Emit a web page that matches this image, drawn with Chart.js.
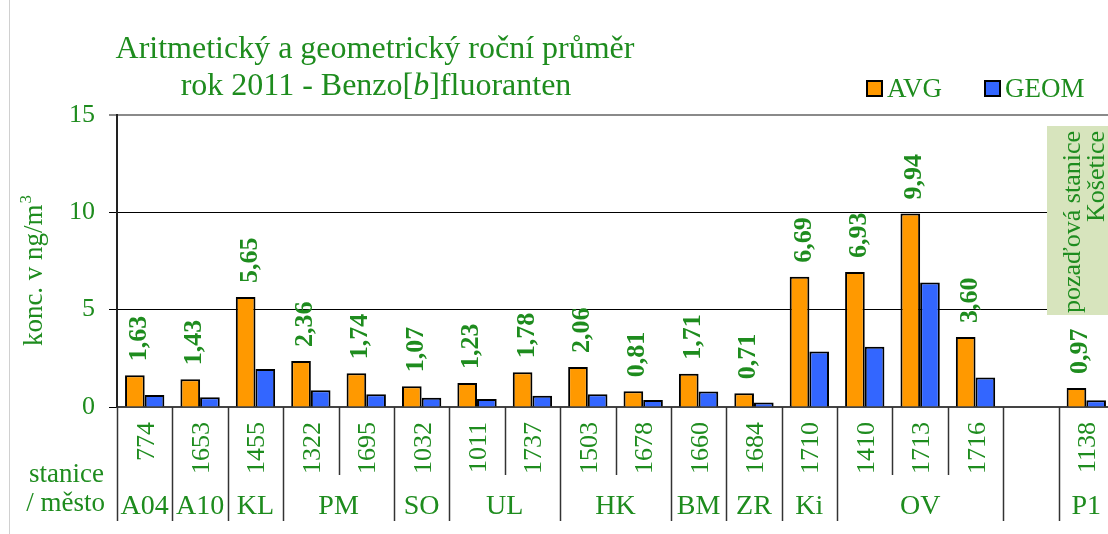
<!DOCTYPE html>
<html>
<head>
<meta charset="utf-8">
<script src="https://cdn.jsdelivr.net/npm/chart.js@4.4.1/dist/chart.umd.min.js"></script>
<style>
    html, body { margin: 0; padding: 0; background: #fff; overflow: hidden; }
    #wrap { width: 1120px; height: 534px; }
</style>
</head>
<body>
<div id="wrap"><canvas id="pahChart" width="1120" height="534"></canvas></div>
<script>
// station codes (one per slot, '' = empty slot)
const stations = ['774', '1653', '1455', '1322', '1695', '1032', '1011', '1737', '1503',
    '1678', '1660', '1684', '1710', '1410', '1713', '1716', '', '1138'];
// city groups: [label, first slot, last slot]
const cities = [['A04', 0, 0], ['A10', 1, 1], ['KL', 2, 2], ['PM', 3, 4], ['SO', 5, 5],
    ['UL', 6, 7], ['HK', 8, 9], ['BM', 10, 10], ['ZR', 11, 11], ['Ki', 12, 12],
    ['OV', 13, 15], ['', 16, 16], ['P1', 17, 17]];
const avgValues = [1.63, 1.43, 5.65, 2.36, 1.74, 1.07, 1.23, 1.78, 2.06,
    0.81, 1.71, 0.71, 6.69, 6.93, 9.94, 3.60, null, 0.97];
const geomValues = [0.62, 0.50, 1.95, 0.86, 0.65, 0.48, 0.41, 0.58, 0.65,
    0.36, 0.79, 0.23, 2.85, 3.09, 6.40, 1.51, null, 0.35];
const yTicks = [0, 5, 10, 15];

const GREEN = '#1e8c1e';
const SERIF = '"Liberation Serif", "DejaVu Serif", serif';

function rotText(ctx, text, x, y, align) {
    ctx.save();
    ctx.translate(x, y);
    ctx.rotate(-Math.PI / 2);
    ctx.textAlign = align;
    ctx.fillText(text, 0, 0);
    ctx.restore();
}

const decorPlugin = {
    id: 'decor',
    afterDraw(chart) {
        const ctx = chart.ctx;
        const xs = chart.scales.x;
        const ys = chart.scales.y;
        const area = chart.chartArea;
        const slotW = (area.right - area.left) / stations.length;
        const base = ys.getPixelForValue(0);

        ctx.save();
        // left frame line
        ctx.strokeStyle = '#d0d0d0';
        ctx.lineWidth = 1;
        ctx.beginPath(); ctx.moveTo(9.5, 0); ctx.lineTo(9.5, 534); ctx.stroke();

        // separators under the axis
        ctx.strokeStyle = '#333';
        ctx.lineWidth = 1.5;
        const longAt = new Set(cities.map(c => c[1]));
        for (let i = 0; i < stations.length; i++) {
            const x = Math.round(area.left + i * slotW) + 0.5;
            const bottom = longAt.has(i) ? 521 : 475;
            ctx.beginPath(); ctx.moveTo(x, base); ctx.lineTo(x, bottom); ctx.stroke();
        }

        // station codes
        ctx.fillStyle = GREEN;
        ctx.font = '26px ' + SERIF;
        ctx.textBaseline = 'alphabetic';
        stations.forEach((s, i) => {
            if (!s) return;
            rotText(ctx, s, xs.getPixelForValue(i) + 9, 422, 'right');
        });

        // city labels
        ctx.font = '28px ' + SERIF;
        ctx.textAlign = 'center';
        cities.forEach(c => {
            if (!c[0]) return;
            const cx = (xs.getPixelForValue(c[1]) + xs.getPixelForValue(c[2])) / 2;
            ctx.fillText(c[0], cx, 514);
        });
        ctx.font = '27px ' + SERIF;
        ctx.textAlign = 'right';
        ctx.fillText('stanice', 104, 482);
        ctx.fillText('/ město', 105, 511);

        // value labels above AVG bars
        ctx.font = 'bold 26px ' + SERIF;
        const avgMeta = chart.getDatasetMeta(0);
        avgMeta.data.forEach((bar, i) => {
            if (avgValues[i] == null) return;
            const txt = avgValues[i].toFixed(2).replace('.', ',');
            rotText(ctx, txt, bar.x + 11, bar.y - 14, 'left');
        });

        // background station box
        ctx.fillStyle = '#d7e4bd';
        ctx.fillRect(1047, 126, 70, 189);
        ctx.fillStyle = GREEN;
        ctx.font = '26px ' + SERIF;
        rotText(ctx, 'pozaďová stanice', 1080, 131, 'right');
        rotText(ctx, 'Košetice', 1104, 131, 'right');

        // legend
        const legend = [['AVG', '#ff9900', 867], ['GEOM', '#3366ff', 985]];
        ctx.font = '27px ' + SERIF;
        ctx.textAlign = 'left';
        legend.forEach(([name, col, lx]) => {
            ctx.fillStyle = col;
            ctx.fillRect(lx, 81, 15, 15);
            ctx.strokeStyle = '#000';
            ctx.lineWidth = 2;
            ctx.strokeRect(lx, 81, 15, 15);
            ctx.fillStyle = GREEN;
            ctx.fillText(name, lx + 20, 97);
        });

        // title
        const tf = '32px ' + SERIF;
        ctx.font = tf;
        ctx.textAlign = 'left';
        const line1 = 'Aritmetický a geometrický roční průměr';
        ctx.fillText(line1, 375 - ctx.measureText(line1).width / 2, 58);
        const p1 = 'rok 2011 - Benzo[', p2 = 'b', p3 = ']fluoranten';
        const w1 = ctx.measureText(p1).width, w3 = ctx.measureText(p3).width;
        ctx.font = 'italic ' + tf;
        const w2 = ctx.measureText(p2).width;
        let tx = 376 - (w1 + w2 + w3) / 2;
        ctx.font = tf;
        ctx.fillText(p1, tx, 95); tx += w1;
        ctx.font = 'italic ' + tf;
        ctx.fillText(p2, tx, 95); tx += w2;
        ctx.font = tf;
        ctx.fillText(p3, tx, 95);

        // y axis title with superscript
        ctx.save();
        ctx.translate(42, 271);
        ctx.rotate(-Math.PI / 2);
        ctx.font = '27px ' + SERIF;
        const yt = 'konc. v ng/m';
        const wy = ctx.measureText(yt).width;
        ctx.font = '17px ' + SERIF;
        const ws = ctx.measureText('3').width;
        ctx.font = '27px ' + SERIF;
        ctx.textAlign = 'left';
        ctx.fillText(yt, -(wy + ws) / 2, 0);
        ctx.font = '17px ' + SERIF;
        ctx.fillText('3', -(wy + ws) / 2 + wy + 1, -11);
        ctx.restore();

        ctx.restore();
    }
};

new Chart(document.getElementById('pahChart').getContext('2d'), {
    type: 'bar',
    data: {
        labels: stations,
        datasets: [{
            label: 'AVG',
            data: avgValues,
            backgroundColor: '#ff9900',
            borderColor: '#000',
            borderWidth: 2,
            categoryPercentage: 0.71,
            barPercentage: 1.0
        }, {
            label: 'GEOM',
            data: geomValues,
            backgroundColor: '#3366ff',
            borderColor: '#000',
            borderWidth: 2,
            categoryPercentage: 0.71,
            barPercentage: 1.0
        }]
    },
    options: {
        responsive: false,
        animation: false,
        devicePixelRatio: 1,
        layout: { padding: { top: 115, bottom: 127, left: 0, right: 6 } },
        plugins: {
            legend: { display: false },
            title: { display: false },
            tooltip: { enabled: false }
        },
        scales: {
            x: {
                grid: { display: false },
                ticks: { display: false },
                border: { display: true, color: '#444', width: 2 },
                afterFit: scale => { scale.height = 0; }
            },
            y: {
                min: 0,
                max: 15,
                afterBuildTicks: scale => { scale.ticks = yTicks.map(v => ({ value: v })); },
                afterFit: scale => { scale.width = 117; },
                ticks: {
                    color: GREEN,
                    padding: 14,
                    font: { family: SERIF, size: 26 }
                },
                grid: {
                    color: c => (c.tick && c.tick.value === 15) ? '#8a8a8a' : '#000',
                    lineWidth: c => (c.tick && c.tick.value === 15) ? 2 : 1,
                    tickLength: 8
                },
                border: { display: true, color: '#222', width: 2 }
            }
        }
    },
    plugins: [decorPlugin]
});
</script>
</body>
</html>
